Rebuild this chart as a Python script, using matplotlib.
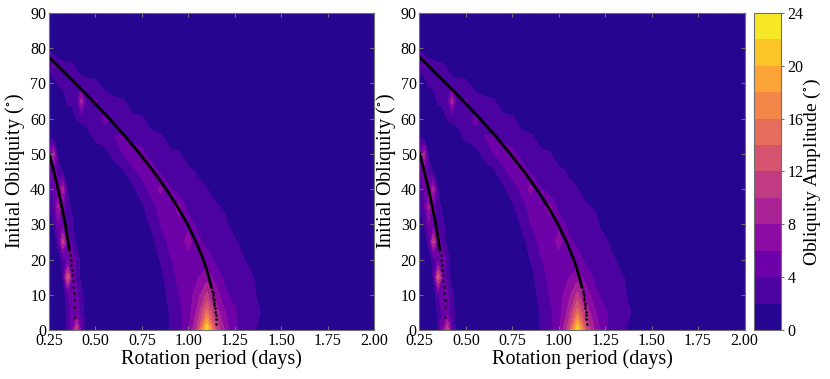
import numpy as np
import matplotlib
matplotlib.use("Agg")
import matplotlib.pyplot as plt

# ---------------- data ----------------
periods = [0.25, 0.275, 0.30, 0.325, 0.35, 0.375, 0.40, 0.425, 0.45, 0.50, 0.55,
           0.60, 0.65, 0.70, 0.75, 0.80, 0.85, 0.90, 0.95, 1.00, 1.05, 1.10,
           1.15, 1.20, 1.25, 1.30, 1.35, 1.40, 1.45, 1.50, 2.00]
obliquities = [0, 5, 10, 15, 20, 25, 30, 35, 40, 45, 50, 55, 60, 65, 70, 75, 80, 85, 90]

amp_0 = [0.5, 0.5, 0.5, 0.5, 2.2, 6, 12, 4, 1.2] + [0.5]*8 + [2.1, 3.3, 5.5, 11, 22.5, 12, 7.5, 4.3, 3.2, 2.4, 0.8, 0.5, 0.5, 0.5]
amp_5 = [0.5, 0.5, 0.5, 0.5, 2.3, 4.5, 5, 3, 1] + [0.5]*8 + [2.1, 3.4, 5, 8.5, 15, 9, 6, 4.2, 3.2, 2.6, 1.8, 0.5, 0.5, 0.5]
amp_10 = [0.5, 0.5, 0.5, 0.8, 3.5, 6, 4.5, 2.5, 0.8] + [0.5]*7 + [0.9, 2.6, 4.0, 5, 7, 10.5, 7, 4.3, 3.4, 2.7, 2.5, 0.8, 0.5, 0.5, 0.5]
amp_15 = [0.5, 0.5, 0.5, 2.2, 13, 6, 3.0, 1.2, 0.5] + [0.5]*7 + [1.4, 3.0, 4.5, 5, 5.8, 7, 5, 3.5, 2.9, 2.5, 2.05, 0.6, 0.5, 0.5, 0.5]
amp_20 = [0.5, 2.15, 1.0, 2.5, 5, 5.5, 3.2, 1.0, 0.5] + [0.5]*7 + [2.1, 3.8, 4.6, 5, 5.4, 5, 3.4, 2.9, 2.5, 2.1, 0.6, 0.5, 0.5, 0.5, 0.5]
amp_25 = [0.5, 0.5, 2.8, 11, 5, 3, 1.2, 0.5, 0.5] + [0.5]*6 + [1.2, 3.0, 4.4, 4.8, 6.8, 4.6, 3.4, 2.9, 2.5, 2.4, 1.0] + [0.5]*5
amp_30 = [0.5, 2.2, 5.5, 4.5, 3.5, 2.5, 0.8, 0.5, 0.5] + [0.5]*6 + [2.3, 4.0, 4.8, 5.2, 5.5, 3.4, 2.9, 2.6, 2.5, 0.8] + [0.5]*6
amp_35 = [2.1, 3.5, 8.5, 4.5, 3, 1.2, 0.5, 0.5, 0.5] + [0.5]*5 + [1.6, 3.4, 4.5, 4.8, 6.8, 3.0, 2.9, 2.6, 2.3, 1.6] + [0.5]*7
amp_40 = [2.5, 4.5, 5, 9, 1.9, 0.5, 0.5, 0.5, 0.5] + [0.5]*4 + [1.4, 3.2, 4.4, 6.6, 4.2, 2.9, 2.6, 2.3, 2.1] + [0.5]*9
amp_45 = [4, 5, 3.5, 1.8, 0.5, 0.5, 0.5, 0.5, 0.5] + [0.5]*3 + [1.6, 3.5, 4.6, 5.0, 3.6, 2.8, 2.5, 2.4, 1.85] + [0.5]*10
amp_50 = [5, 9, 1.2, 0.5, 0.5, 0.5, 0.5, 0.5, 0.5, 0.5] + [1.0, 2.8, 4.0, 4.8, 4.6, 3.2, 2.7, 2.4, 2.2, 1.0] + [0.5]*11
amp_55 = [1.9] + [0.5]*7 + [0.8, 2.6, 3.3, 4.0, 4.2, 3.4, 2.9, 2.5, 2.3, 1.2] + [0.5]*13
amp_60 = [0.5]*6 + [2.05, 2.5, 2.7, 3.0, 4.5, 3.3, 2.8, 2.5, 2.3, 1.0] + [0.5]*15
amp_65 = [0.5, 0.5, 0.5, 0.6, 2.4, 2.7, 3.2, 9, 3.0, 4.3, 2.8, 2.5, 2.2, 0.8] + [0.5]*17
amp_70 = [0.5, 0.6, 2.3, 2.7, 3.0, 3.2, 3.3, 3.0, 2.7, 2.4, 1.3] + [0.5]*20
amp_75 = [3.0, 4.4, 3.0, 2.6, 2.4, 2.3, 1.6] + [0.5]*24
amp_80 = [1.7] + [0.5]*30
amp_85 = [0.5]*31
amp_90 = [0.5]*31

amplitude = [amp_0, amp_5, amp_10, amp_15, amp_20, amp_25, amp_30, amp_35, amp_40,
             amp_45, amp_50, amp_55, amp_60, amp_65, amp_70, amp_75, amp_80, amp_85, amp_90]

# resonance curves (black)
main_line_period = [0.249, 0.298, 0.393, 0.486, 0.575, 0.660, 0.739, 0.813, 0.881,
                    0.942, 0.996, 1.042, 1.081, 1.097, 1.111, 1.118, 1.125]
main_line_obliquity = [77.5, 75, 70, 65, 60, 55, 50, 45, 40, 35, 30, 25, 20, 17.5, 15, 13.5, 12]
main_dot_period = [1.1289, 1.1311, 1.1332, 1.1352, 1.1374, 1.1394, 1.1412, 1.1433, 1.1453, 1.1468, 1.1484, 1.1495]
main_dot_obliquity = [11.0, 10.4, 9.8, 9.2, 8.5, 7.8, 7.1, 6.2, 5.2, 4.3, 3.0, 1.7]

side_line_period = [0.245, 0.251, 0.276, 0.299, 0.319, 0.338, 0.353, 0.360]
side_line_obliquity = [51, 50, 45, 40, 35, 30, 25, 22.7]
side_dot_period = [0.3633, 0.3666, 0.3698, 0.3730, 0.3756, 0.3784, 0.3810, 0.3836, 0.3857, 0.3874, 0.3891]
side_dot_obliquity = [21.3, 19.9, 18.5, 17.0, 15.6, 14.0, 12.3, 10.4, 8.5, 6.6, 3.8]

levels = list(range(0, 26, 2))
cbar_ticks = [0, 4, 8, 12, 16, 20, 24]
x_ticks = [0.25, 0.50, 0.75, 1.00, 1.25, 1.50, 1.75, 2.00]
y_ticks = [0, 10, 20, 30, 40, 50, 60, 70, 80, 90]

# ---------------- drawing ----------------
plt.rcParams['font.family'] = ['Liberation Serif', 'DejaVu Serif']
plt.rcParams['mathtext.fontset'] = 'stix'

fig = plt.figure(figsize=(8.30, 3.79), dpi=100)
ax1 = fig.add_axes([0.059, 0.1293, 0.3916, 0.8364])
ax2 = fig.add_axes([0.5054, 0.1293, 0.3916, 0.8364])
cax = fig.add_axes([0.9084, 0.1293, 0.0331, 0.8364])

spine_col = '#707070'
for ax in (ax1, ax2):
    cs = ax.contourf(periods, obliquities, amplitude, levels=levels, cmap='plasma')
    ax.plot(main_line_period, main_line_obliquity, color='black', lw=2.0, solid_capstyle='round')
    ax.plot(main_dot_period, main_dot_obliquity, 'o', color='black', ms=1.8, mew=0)
    ax.plot(side_line_period, side_line_obliquity, color='black', lw=2.0, solid_capstyle='round')
    ax.plot(side_dot_period, side_dot_obliquity, 'o', color='black', ms=1.8, mew=0)
    ax.set_xlim(0.25, 2.0)
    ax.set_ylim(0, 90)
    ax.set_xticks(x_ticks)
    ax.set_xticklabels(['%.2f' % t for t in x_ticks])
    ax.set_yticks(y_ticks)
    ax.tick_params(direction='in', length=3, width=0.8, color=spine_col,
                   labelsize=11.5, top=True, right=True, pad=2)
    for s in ax.spines.values():
        s.set_color(spine_col)
    ax.set_xlabel('Rotation period (days)', fontsize=14.5, labelpad=0)
    ax.set_ylabel('Initial Obliquity ($^{\\circ}$)', fontsize=14.5, labelpad=2)

cb = fig.colorbar(cs, cax=cax, ticks=cbar_ticks)
cb.outline.set_edgecolor(spine_col)
cb.ax.tick_params(direction='out', length=2.5, color=spine_col, labelsize=11.5, pad=2)
cb.set_label('Obliquity Amplitude ($^{\\circ}$)', fontsize=14, labelpad=-1)

fig.savefig('out.png', dpi=100)
